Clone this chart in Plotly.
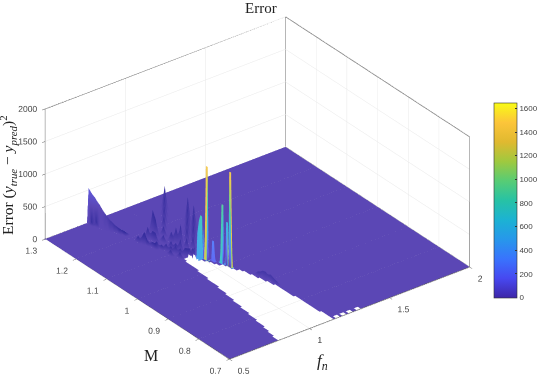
import numpy as np
import plotly.graph_objects as go

fn_start, fn_end, fn_step = 0.5, 2.0, 0.01
M_start, M_end, M_step = 0.7, 1.3, 0.01
z_top = 2000
floor_level = 2

fn_ticks = [0.5, 1, 1.5, 2]
fn_labels = ["0.5", "1", "1.5", "2"]
M_ticks = [0.7, 0.8, 0.9, 1, 1.1, 1.2, 1.3]
M_labels = ["0.7", "0.8", "0.9", "1", "1.1", "1.2", "1.3"]
z_ticks = [0, 500, 1000, 1500, 2000]
z_labels = ["0", "500", "1000", "1500", "2000"]
cbar_ticks = [0, 200, 400, 600, 800, 1000, 1200, 1400, 1600]
cbar_max = 1650
dark_min = -150

# White band with no data: for each M row, the fn interval that is missing
gap_M = [0.70, 0.71, 0.72, 0.73, 0.74, 0.75, 0.76, 0.77, 0.78, 0.79, 0.80, 0.81, 0.82,
         0.83, 0.84, 0.85, 0.86, 0.87, 0.88, 0.89, 0.90, 0.91, 0.92, 0.93, 0.94, 0.95,
         0.96, 0.97, 0.98, 0.99, 1.00, 1.01, 1.02, 1.03, 1.04, 1.05, 1.06]
gap_low = [0.82, 0.82, 0.83, 0.83, 0.84, 0.84, 0.85, 0.85, 0.85, 0.86, 0.86, 0.86, 0.87,
           0.87, 0.87, 0.88, 0.88, 0.88, 0.89, 0.89, 0.89, 0.90, 0.90, 0.90, 0.91, 0.91,
           0.91, 0.91, 0.92, 0.92, 0.92, 0.92, 0.93, 0.93, 0.93, 0.93, 0.94]
gap_high = [1.14, 1.14, 1.14, 1.14, 1.13, 1.13, 1.13, 1.13, 1.13, 1.13, 1.13, 1.13, 1.12,
            1.12, 1.12, 1.12, 1.12, 1.12, 1.11, 1.11, 1.10, 1.10, 1.09, 1.09, 1.08, 1.08,
            1.07, 1.06, 1.05, 1.05, 1.04, 1.02, 1.01, 1.00, 0.98, 0.96, 0.95]
edge_specks_fn = [1.18, 1.22, 1.26, 1.31]

# (fn, M, error)
left_bump = [
    (.77, 1.30, 530), (.78, 1.30, 480), (.79, 1.30, 420), (.80, 1.30, 330), (.81, 1.30, 220), (.82, 1.30, 100),
    (.77, 1.29, 40), (.78, 1.29, 430), (.79, 1.29, 400), (.80, 1.29, 340), (.81, 1.29, 240), (.82, 1.29, 120),
    (.78, 1.28, 60), (.79, 1.28, 340), (.80, 1.28, 310), (.81, 1.28, 240), (.82, 1.28, 130), (.83, 1.28, 40),
    (.79, 1.27, 250), (.80, 1.27, 260), (.81, 1.27, 210), (.82, 1.27, 130), (.83, 1.27, 60),
    (.80, 1.26, 200), (.81, 1.26, 180), (.82, 1.26, 120), (.83, 1.26, 60),
    (.81, 1.25, 130), (.82, 1.25, 120), (.83, 1.25, 70), (.84, 1.25, 30),
    (.82, 1.24, 90), (.83, 1.24, 70), (.84, 1.24, 40),
    (.83, 1.23, 50), (.84, 1.23, 40), (.85, 1.23, 20), (.84, 1.22, 30), (.85, 1.22, 20),
]
ridge = [
    (.85, 1.18, 90), (.86, 1.17, 130), (.87, 1.17, 160), (.87, 1.16, 110),
    (.88, 1.15, 70), (.89, 1.14, 90), (.90, 1.13, 60), (.91, 1.12, 100), (.92, 1.11, 80),
    (.93, 1.10, 110), (.94, 1.09, 90), (.95, 1.08, 120), (.96, 1.07, 130), (.97, 1.06, 170),
]
dark_columns = [
    (.87, 1.16, 60), (.91, 1.18, 170),
    (.88, 1.15, 60), (.92, 1.17, 130), (.96, 1.19, 350),
    (.88, 1.14, 60), (.92, 1.16, 130), (.96, 1.18, 230),
    (.95, 1.15, 100), (.99, 1.17, 140), (1.03, 1.19, 190), (1.07, 1.21, 240), (1.11, 1.23, 300), (1.15, 1.25, 360),
    (.90, 1.10, 70), (.94, 1.12, 110), (.98, 1.14, 150),
    (.95, 1.11, 100), (.99, 1.13, 240),
    (.92, 1.08, 80), (.96, 1.10, 180), (1.00, 1.12, 310),
    (.96, 1.08, 100), (1.00, 1.10, 160), (1.04, 1.12, 220), (1.08, 1.14, 280), (1.12, 1.16, 340), (1.16, 1.18, 390),
    (.98, 1.07, 120), (1.02, 1.09, 200), (1.06, 1.11, 270), (1.10, 1.13, 330), (1.14, 1.15, 380),
]
teal_wall = [(.97, 1.05, 420), (.98, 1.05, 600), (.99, 1.05, 680), (1.00, 1.05, 640), (1.01, 1.05, 480)]
teal_wall_base = 480
# (fn, M, error, colour value at the foot of the spike)
thin_spikes = [
    (1.01, 1.04, 1430, 1250),
    (1.06, 0.99, 1450, 1250),
    (1.05, 1.01, 900, 700),
    (1.06, 1.00, 650, 480),
    (1.03, 1.03, 300, 200),
]
spike_top_half = 0.002
spike_foot_half = 0.006
far_patch = [
    (1.12, .93, 60), (1.13, .93, 40), (1.13, .92, 90), (1.13, .91, 100), (1.14, .91, 50),
    (1.14, .90, 80), (1.14, .89, 60), (1.14, .88, 40),
]

parula = [
    (0.0, (62, 38, 168)), (0.1, (71, 72, 240)), (0.2, (57, 115, 253)), (0.3, (39, 151, 235)),
    (0.4, (28, 178, 211)), (0.5, (39, 194, 165)), (0.6, (87, 204, 117)), (0.7, (159, 201, 63)),
    (0.8, (224, 185, 48)), (0.9, (252, 197, 58)), (1.0, (249, 251, 21)),
]
darkest_colour = "rgb(40,36,150)"

tp, fp = spike_top_half, spike_foot_half
offsets = (-fp, -tp, tp, fp)
fn_extra = [s[0] + d for s in thin_spikes for d in offsets]
M_extra = [s[1] + d for s in thin_spikes for d in offsets] + [1.053, 1.047]
fn_values = np.unique(np.round(np.r_[np.arange(fn_start, fn_end + fn_step / 2, fn_step), fn_extra], 3))
M_values = np.unique(np.round(np.r_[np.arange(M_start, M_end + M_step / 2, M_step), M_extra], 3))
z = np.full((len(M_values), len(fn_values)), float(floor_level))
c = np.zeros_like(z)


def col(v):
    return int(np.searchsorted(fn_values, round(v, 3)))


def row(v):
    return int(np.searchsorted(M_values, round(v, 3)))


for f, m, e in left_bump:
    z[row(m), col(f)] = e
    c[row(m), col(f)] = e * 0.45 - 120
for f, m, e in ridge + dark_columns:
    z[row(m), col(f)] = e
    c[row(m), col(f)] = -110
for f, m, e in far_patch:
    z[row(m), col(f)] = e
    c[row(m), col(f)] = -70
for f, m, e in teal_wall:
    z[row(m), col(f)] = e
    c[row(m), col(f)] = e + 120
    for mm in (1.053, 1.047):
        c[row(mm), col(f)] = teal_wall_base
for f, m, e, foot in thin_spikes:
    for mm in (m - fp, m - tp, m, m + tp, m + fp):
        for ff in (f - fp, f - tp, f, f + tp, f + fp):
            c[row(mm), col(ff)] = foot
    for mm in (m - tp, m, m + tp):
        for ff in (f - tp, f, f + tp):
            z[row(mm), col(ff)] = e
            c[row(mm), col(ff)] = e
for i, m in enumerate(M_values):
    j = int(np.argmin(np.abs(np.array(gap_M) - m)))
    if abs(gap_M[j] - m) < 0.0095:
        z[i, (fn_values >= gap_low[j]) & (fn_values <= gap_high[j])] = np.nan
for f in edge_specks_fn:
    z[0, col(f)] = np.nan


def blend(rgb, k=0.15):
    return "rgb(%d,%d,%d)" % tuple(round(v + (255 - v) * k) for v in rgb)


surface_span = cbar_max - dark_min
surface_scale = [[0, darkest_colour]] + [[(s * cbar_max - dark_min) / surface_span, blend(rgb)] for s, rgb in parula]
bar_scale = [[s, blend(rgb, 0)] for s, rgb in parula]

fig = go.Figure()
fig.add_trace(go.Surface(
    x=fn_values, y=M_values, z=z.tolist(), surfacecolor=c.tolist(), cmin=dark_min, cmax=cbar_max,
    colorscale=surface_scale, showscale=False, connectgaps=False, hoverinfo="skip",
    lighting=dict(ambient=1, diffuse=0, specular=0, roughness=1, fresnel=0),
))

# colour bar
fig.add_trace(go.Scatter3d(
    x=[fn_start], y=[M_end], z=[0], mode="markers", showlegend=False, hoverinfo="skip",
    marker=dict(size=1, color=[0], cmin=0, cmax=cbar_max, colorscale=bar_scale, showscale=True,
                colorbar=dict(lenmode="pixels", len=195, thicknessmode="pixels", thickness=23,
                              x=494 / 540, xanchor="left", y=1 - 200 / 376, yanchor="middle",
                              tickvals=cbar_ticks, ticks="inside", ticklen=2, tickcolor="#333",
                              ticklabeloverflow="allow",
                              outlinecolor="#333", outlinewidth=0.6, xpad=0, ypad=0,
                              tickfont=dict(size=8, color="#444", family="Liberation Sans"))),
))

# visible edges of the box
edge_x = [fn_start, fn_start, fn_end, fn_end, fn_end, None, fn_end, fn_end, None,
          fn_start, fn_start, fn_end, fn_end]
edge_y = [M_end, M_end, M_end, M_start, M_start, None, M_end, M_end, None,
          M_start, M_end, M_end, M_start]
edge_z = [0, z_top, z_top, z_top, 0, None, 0, z_top, None, 0, 0, 0, 0]
fig.add_trace(go.Scatter3d(x=edge_x, y=edge_y, z=edge_z, mode="lines", showlegend=False, hoverinfo="skip",
                           line=dict(color="#555", width=1.5)))
fig.add_trace(go.Scatter3d(x=[fn_start, fn_start, fn_end], y=[M_end, M_start, M_start], z=[0, 0, 0],
                           mode="lines", showlegend=False, hoverinfo="skip",
                           line=dict(color="#555", width=1.5)))

# tick labels
label_font = dict(size=8.5, color="#444", family="Liberation Sans")
fig.add_trace(go.Scatter3d(x=[fn_start] * len(z_ticks), y=[M_end] * len(z_ticks), z=z_ticks, mode="text",
                           text=[t + "   " for t in z_labels], textposition="middle left", textfont=label_font,
                           showlegend=False, hoverinfo="skip"))
fig.add_trace(go.Scatter3d(x=[fn_start] * len(M_ticks), y=M_ticks, z=[0] * len(M_ticks), mode="text",
                           text=M_labels, textposition="bottom left", textfont=label_font,
                           showlegend=False, hoverinfo="skip"))
fig.add_trace(go.Scatter3d(x=fn_ticks, y=[M_start] * len(fn_ticks), z=[0] * len(fn_ticks), mode="text",
                           text=fn_labels, textposition="bottom right", textfont=label_font,
                           showlegend=False, hoverinfo="skip"))

axis = dict(showbackground=False, gridcolor="#e8e8e8", gridwidth=1, zeroline=False, showline=False,
            ticks="outside", ticklen=4, tickcolor="#555", title=dict(text=""), showticklabels=False,
            showspikes=False)
fig.update_layout(
    width=540, height=376, margin=dict(l=0, r=0, t=0, b=0), paper_bgcolor="white",
    showlegend=False,
    scene=dict(
        domain=dict(x=[0, 516 / 540], y=[0, 1]),
        xaxis=dict(axis, range=[fn_start, fn_end], tickvals=fn_ticks),
        yaxis=dict(axis, range=[M_start, M_end], tickvals=M_ticks),
        zaxis=dict(axis, range=[0, z_top], tickvals=z_ticks),
        aspectmode="manual", aspectratio=dict(x=1.61, y=1.61, z=0.80),
        camera=dict(projection=dict(type="orthographic"), up=dict(x=0, y=0, z=1),
                    center=dict(x=0, y=0, z=0), eye=dict(x=-0.79, y=-1.03, z=0.75)),
    ),
    annotations=[
        dict(text="Error", x=261 / 540, y=1 - 8 / 376, xref="paper", yref="paper", showarrow=False,
             xanchor="center", yanchor="middle",
             font=dict(size=15, family="Liberation Serif", color="#222")),
        dict(text="Error (<i>y<sub>true</sub></i> − <i>y<sub>pred</sub></i>)<sup>2</sup>",
             x=8 / 540, y=1 - 175 / 376, xref="paper", yref="paper", showarrow=False, textangle=-90,
             xanchor="center", yanchor="middle",
             font=dict(size=15.5, family="Liberation Serif", color="#222")),
        dict(text="M", x=151 / 540, y=1 - 355 / 376, xref="paper", yref="paper", showarrow=False,
             xanchor="center", yanchor="middle",
             font=dict(size=16, family="Liberation Serif", color="#222")),
        dict(text="<i>f<sub>n</sub></i>", x=323 / 540, y=1 - 362 / 376, xref="paper", yref="paper", showarrow=False,
             xanchor="center", yanchor="middle",
             font=dict(size=17, family="Liberation Serif", color="#222")),
    ],
)

fig.write_html("out.html", config=dict(displayModeBar=False),
               post_script="document.body.style.margin='0';document.body.style.overflow='hidden';")
